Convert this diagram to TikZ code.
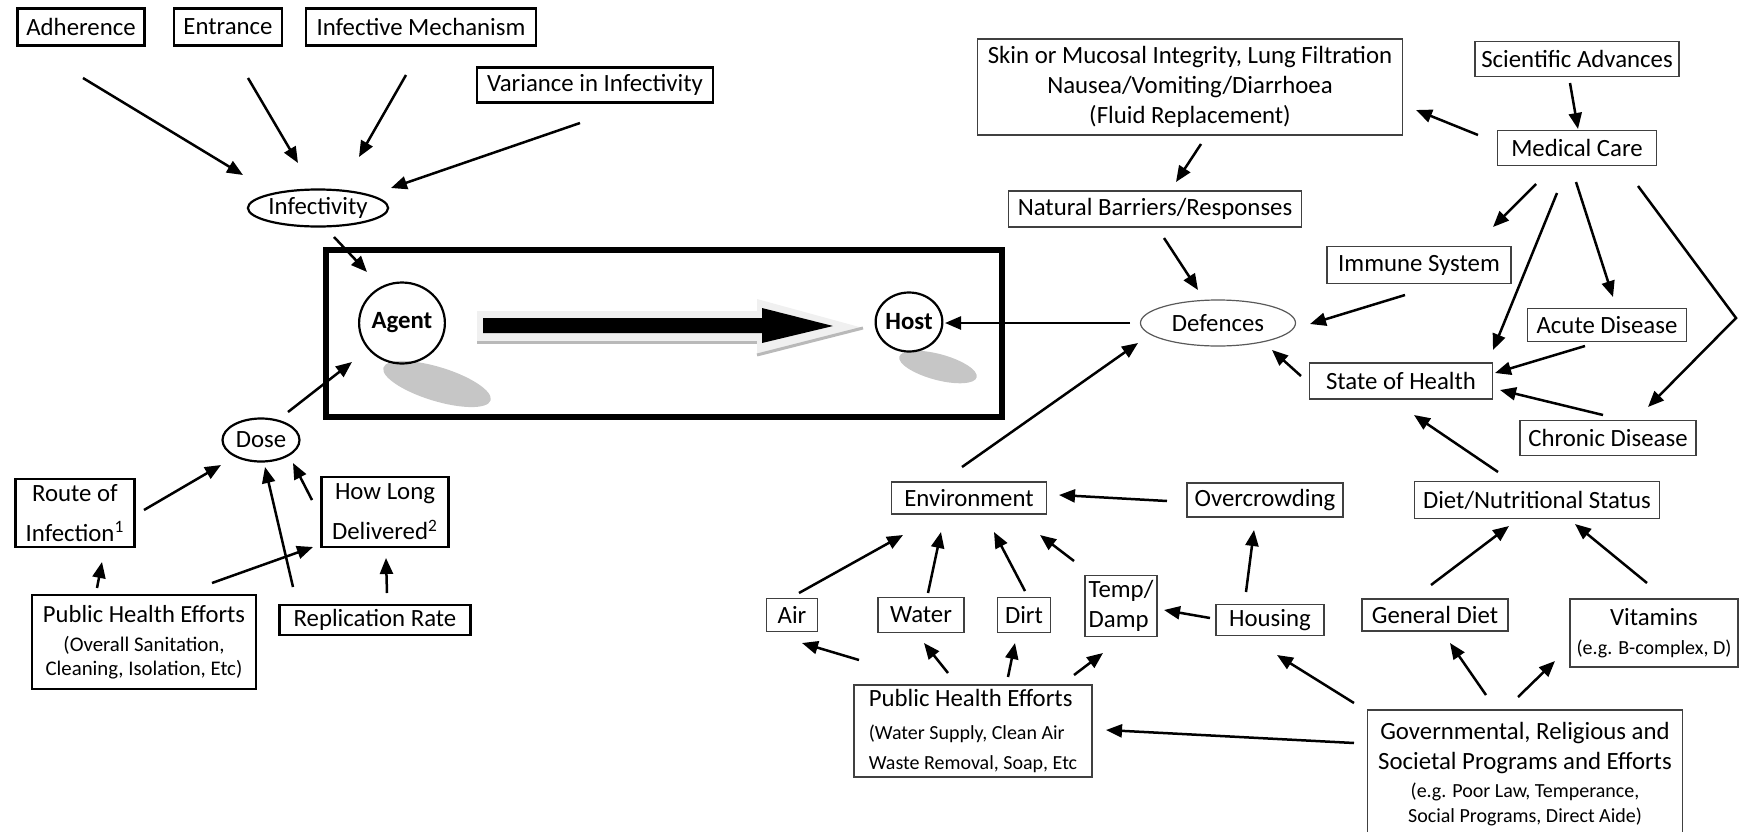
\documentclass[tikz,border=0pt]{standalone}
\usepackage{fontspec}
\setmainfont{Carlito}
\usetikzlibrary{shapes.geometric,arrows.meta,calc}
\tikzset{
  bx/.style n args={2}{minimum width=#1*0.5pt, minimum height=#2*0.5pt},
  lbox/.style={draw, line width=1.1pt, rectangle},
  rbox/.style={draw=black!75, line width=0.6pt, rectangle},
  oval/.style={draw, ellipse, line width=1.1pt},
  arr/.style={line width=1.25pt, -{Triangle[length=8pt,width=6.5pt]}},
  bigtxt/.style={font=\bfseries\fontsize{12.4pt}{14pt}\selectfont},
  shadowfill/.style={fill=gray!45}
}
\newcommand{\smtxt}{\fontsize{10pt}{12pt}\selectfont}
\begin{document}
\begin{tikzpicture}[x=0.5pt,y=-0.5pt,
  every node/.style={font=\fontsize{12.4pt}{15pt}\selectfont, inner sep=0pt}]
\useasboundingbox (0,0) rectangle (1747,831);
\clip (0,0) rectangle (1747,831);

% ---- top-left group
\node[lbox,bx={127}{37}] (adh) at (81,27) {Adherence};
\node[lbox,bx={108}{37}] (ent) at (228,27) {Entrance};
\node[lbox,bx={230}{37}] (infm) at (421,27) {Infective Mechanism};
\node[lbox,bx={236}{35}] (var) at (595,85) {Variance in Infectivity};
\node[oval,bx={132}{37}] (infy) at (318,208) {Infectivity};

% ---- frame, shadows, big arrow
\draw[line width=3pt] (326,250) rectangle (1002,417);
\fill[shadowfill, rotate around={-17:(437,384)}] (437,384) ellipse [x radius=56, y radius=17];
\fill[shadowfill, rotate around={-15:(938,367)}] (938,367) ellipse [x radius=40, y radius=13];
\fill[gray!12] (477,311) -- (757,311) -- (757,299) -- (863,328) -- (757,355) -- (757,343) -- (477,343) -- cycle;
\draw[gray!55, line width=1.5pt] (477,342) -- (757,342);
\draw[gray!55, line width=1.5pt] (757,355) -- (863,328);
\fill (483,318) -- (762,318) -- (762,308) -- (833,326) -- (762,343) -- (762,333) -- (483,333) -- cycle;

\node[oval,bx={85}{81},bigtxt] (agent) at (402,323) {Agent};
\node[oval,bx={62}{59},bigtxt] (host) at (909,322) {Host};

% ---- lower-left group
\node[oval,bx={77}{43}] (dose) at (261,440) {Dose};
\node[lbox,bx={119}{68},align=center] (route) at (75,513) {Route of\\[5pt]Infection\textsuperscript{1}};
\node[lbox,bx={127}{70},align=center] (howl) at (385,512) {How Long\\[5pt]Delivered\textsuperscript{2}};
\node[lbox,bx={224}{94},align=center,font=\fontsize{10.4pt}{12pt}\selectfont] (phel) at (144,642)
  {{\fontsize{12.3pt}{12pt}\selectfont Public Health Efforts}\\[2.5pt](Overall Sanitation,\\Cleaning, Isolation, Etc)};
\node[lbox,bx={191}{30}] (rep) at (375,620) {Replication Rate};

% ---- right group
\node[rbox,bx={425}{96},align=center] (skin) at (1190,87)
  {Skin or Mucosal Integrity, Lung Filtration\\Nausea/Vomiting/Diarrhoea\hspace*{14pt}\\(Fluid Replacement)};
\node[rbox,bx={204}{35}] (sci) at (1577,59) {Scientific Advances};
\node[rbox,bx={159}{35}] (med) at (1577,148) {Medical Care};
\node[rbox,bx={293}{36}] (nat) at (1155,209) {Natural Barriers/Responses};
\node[rbox,bx={184}{37}] (imm) at (1419,265) {Immune System};
\node[draw=black!65, line width=0.6pt, ellipse, bx={155}{46}] (def) at (1218,323) {Defences};
\node[rbox,bx={159}{33}] (acute) at (1607,325) {Acute Disease};
\node[rbox,bx={183}{36}] (state) at (1401,381) {State of Health};
\node[rbox,bx={176}{35}] (chron) at (1608,438) {Chronic Disease};
\node[rbox,bx={155}{32}] (env) at (969,498) {Environment};
\node[rbox,bx={156}{34}] (over) at (1265,500) {Overcrowding};
\node[rbox,bx={245}{37}] (diet) at (1537,500) {Diet/Nutritional Status};
\node[rbox,bx={51}{33}] (air) at (792,615) {Air};
\node[rbox,bx={86}{35}] (water) at (921,615) {Water};
\node[rbox,bx={53}{35}] (dirt) at (1024,615) {Dirt};
\node[rbox,bx={72}{61},align=left] (temp) at (1121,606) {Temp/\\Damp};
\node[rbox,bx={108}{31}] (hous) at (1270,620) {Housing};
\node[rbox,bx={146}{32}] (gdiet) at (1435,615) {General Diet};
\node[rbox,bx={168}{68},align=center] (vit) at (1654,633) {Vitamins\\[-0.5pt]{\smtxt (e.g. B-complex, D)}};
\node[rbox,bx={238}{92},align=left] (pher) at (973,731)
  {Public Health Efforts\\[1.5pt]{\smtxt (Water Supply, Clean Air}\\{\smtxt Waste Removal, Soap, Etc}};
\node[rbox,bx={315}{128},align=center] (gov) at (1525,774)
  {Governmental, Religious and\\Societal Programs and Efforts\\[-1pt]{\smtxt (e.g. Poor Law, Temperance,}\\[-2.5pt]{\smtxt Social Programs, Direct Aide)}};

% ---- connectors, left
\draw[arr] ($(adh)+(2,51)$) -- ($(infy)+(-75,-33)$);
\draw[arr] ($(ent)+(20,51)$) -- ($(infy)+(-20,-45)$);
\draw[arr] ($(infm)+(-15,48)$) -- ($(infy)+(41,-51)$);
\draw[arr] ($(var)+(-15,38)$) -- ($(infy)+(73,-20)$);
\draw[arr] ($(infy)+(16,29)$) -- ($(agent)+(-35,-51)$);
\draw[arr] ($(dose)+(27,-28)$) -- ($(agent)+(-50,39)$);
\draw[arr] ($(route)+(69,-3)$) -- ($(dose)+(-40,25)$);
\draw[arr] ($(howl)+(-73,-12)$) -- ($(dose)+(32,23)$);
\draw[arr] ($(rep)+(-82,-33)$) -- ($(dose)+(4,27)$);
\draw[arr] ($(phel)+(68,-59)$) -- ($(howl)+(-72,35)$);
\draw[arr] ($(phel)+(-47,-54)$) -- ($(route)+(27,49)$);
\draw[arr] ($(rep)+(12,-27)$) -- ($(howl)+(1,46)$);

% ---- connectors, right
\draw[arr] ($(sci)+(-7,24)$) -- ($(med)+(1,-19)$);
\draw[arr] ($(med)+(-99,-13)$) -- ($(skin)+(226,23)$);
\draw[arr] ($(skin)+(11,57)$) -- ($(nat)+(21,-27)$);
\draw[arr] ($(med)+(-41,36)$) -- ($(imm)+(74,-38)$);
\draw[arr] ($(med)+(-20,45)$) -- ($(state)+(92,-31)$);
\draw[arr] ($(med)+(-1,34)$) -- ($(acute)+(6,-28)$);
\draw[arr] ($(med)+(61,38)$) -- ($(med)+(159,170)$) -- ($(chron)+(40,-31)$);
\draw[arr] ($(nat)+(9,29)$) -- ($(def)+(-20,-33)$);
\draw[arr] ($(imm)+(-14,30)$) -- ($(def)+(92,1)$);
\draw[arr] ($(acute)+(-22,21)$) -- ($(state)+(94,-8)$);
\draw[arr] ($(chron)+(-5,-23)$) -- ($(state)+(99,9)$);
\draw[arr] ($(state)+(-100,-5)$) -- ($(def)+(54,27)$);
\draw[arr] ($(def)+(-88,0)$) -- ($(host)+(36,1)$);
\draw[arr] ($(env)+(-7,-31)$) -- ($(def)+(-80,20)$);
\draw[arr] ($(diet)+(-39,-28)$) -- ($(state)+(13,34)$);
\draw[arr] ($(over)+(-98,1)$) -- ($(env)+(90,-3)$);
\draw[arr] ($(air)+(7,-22)$) -- ($(env)+(-66,37)$);
\draw[arr] ($(water)+(7,-22)$) -- ($(env)+(-28,34)$);
\draw[arr] ($(dirt)+(1,-24)$) -- ($(env)+(25,34)$);
\draw[arr] ($(temp)+(-47,-45)$) -- ($(env)+(71,37)$);
\draw[arr] ($(hous)+(-24,-28)$) -- ($(over)+(-11,30)$);
\draw[arr] ($(gdiet)+(-4,-30)$) -- ($(diet)+(-28,26)$);
\draw[arr] ($(vit)+(-7,-50)$) -- ($(diet)+(38,24)$);
\draw[arr] ($(hous)+(-60,-2)$) -- ($(temp)+(43,4)$);
\draw[arr] ($(pher)+(-114,-71)$) -- ($(air)+(10,28)$);
\draw[arr] ($(pher)+(-25,-58)$) -- ($(water)+(3,28)$);
\draw[arr] ($(pher)+(35,-54)$) -- ($(dirt)+(-9,28)$);
\draw[arr] ($(pher)+(101,-56)$) -- ($(temp)+(-18,47)$);
\draw[arr] ($(gov)+(-171,-31)$) -- ($(pher)+(133,-1)$);
\draw[arr] ($(gov)+(-171,-71)$) -- ($(hous)+(7,35)$);
\draw[arr] ($(gov)+(-39,-79)$) -- ($(gdiet)+(15,28)$);
\draw[arr] ($(gov)+(-7,-77)$) -- ($(vit)+(-99,28)$);
\end{tikzpicture}
\end{document}
